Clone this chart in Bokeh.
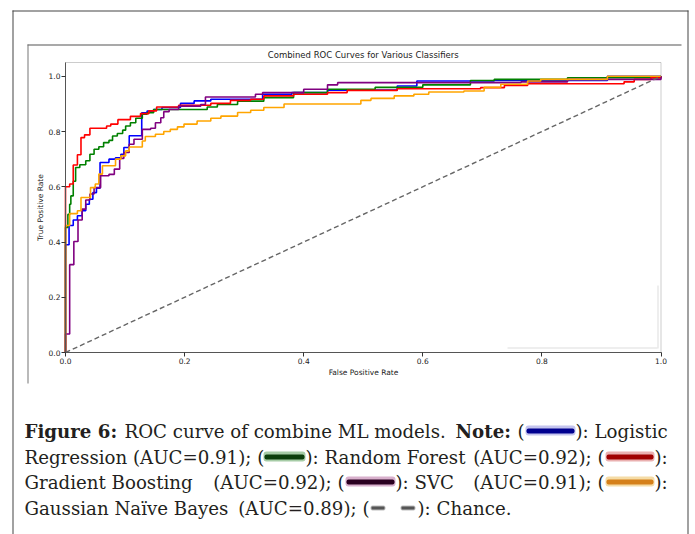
from bokeh.plotting import figure
from bokeh.models import Range1d, Label, BoxAnnotation, FixedTicker, PrintfTickFormatter
from bokeh.embed import file_html
from bokeh.resources import INLINE

# ---------------- data ----------------
lr_fpr = [0, 0, 0.006, 0.013, 0.02, 0.028, 0.034, 0.04, 0.046, 0.052, 0.058, 0.073, 0.084, 0.093,
          0.098, 0.107, 0.128, 0.137, 0.148, 0.162, 0.193, 0.216, 0.244, 0.331, 0.38, 0.44, 0.557,
          0.59, 0.72, 0.91, 1.0]
lr_tpr = [0, 0.39, 0.46, 0.48, 0.495, 0.513, 0.537, 0.555, 0.579, 0.595, 0.688, 0.7, 0.705, 0.718,
          0.742, 0.785, 0.868, 0.874, 0.88, 0.887, 0.902, 0.911, 0.917, 0.935, 0.941, 0.95, 0.965,
          0.983, 0.985, 1.0, 1.0]

rf_fpr = [0, 0, 0.004, 0.007, 0.009, 0.013, 0.017, 0.024, 0.034, 0.041, 0.048, 0.056, 0.064, 0.073,
          0.079, 0.087, 0.096, 0.101, 0.109, 0.118, 0.129, 0.137, 0.148, 0.238, 0.255, 0.289, 0.333,
          0.383, 0.44, 0.52, 0.6, 0.68, 0.72, 0.843, 1.0]
rf_tpr = [0, 0.453, 0.5, 0.537, 0.567, 0.62, 0.67, 0.68, 0.694, 0.718, 0.736, 0.745, 0.76, 0.768,
          0.784, 0.793, 0.805, 0.82, 0.832, 0.848, 0.863, 0.868, 0.88, 0.889, 0.898, 0.91, 0.923,
          0.941, 0.953, 0.96, 0.969, 0.985, 0.989, 0.995, 1.0]

gb_fpr = [0, 0, 0.007, 0.013, 0.02, 0.026, 0.032, 0.041, 0.069, 0.076, 0.088, 0.109, 0.126, 0.14,
          0.153, 0.19, 0.244, 0.277, 0.311, 0.333, 0.383, 0.44, 0.473, 0.557, 0.697, 0.737, 0.776,
          0.938, 0.955, 0.983, 1.0]
gb_tpr = [0, 0.6, 0.61, 0.679, 0.716, 0.778, 0.788, 0.812, 0.82, 0.827, 0.843, 0.855, 0.865, 0.875,
          0.889, 0.895, 0.902, 0.913, 0.917, 0.929, 0.935, 0.941, 0.949, 0.955, 0.959, 0.967, 0.973,
          0.98, 0.989, 0.995, 1.0]

svc_fpr = [0, 0, 0.007, 0.014, 0.021, 0.028, 0.034, 0.041, 0.048, 0.059, 0.073, 0.082, 0.091, 0.098,
           0.107, 0.115, 0.129, 0.143, 0.151, 0.16, 0.165, 0.174, 0.19, 0.227, 0.235, 0.319, 0.331,
           0.4, 0.44, 0.457, 0.765, 0.843, 1.0]
svc_tpr = [0, 0.067, 0.318, 0.402, 0.48, 0.519, 0.552, 0.574, 0.597, 0.64, 0.645, 0.664, 0.703,
           0.724, 0.754, 0.772, 0.808, 0.812, 0.832, 0.85, 0.872, 0.88, 0.892, 0.898, 0.925, 0.935,
           0.941, 0.953, 0.969, 0.977, 0.98, 0.989, 1.0]

nb_fpr = [0, 0, 0.007, 0.02, 0.026, 0.042, 0.05, 0.056, 0.062, 0.084, 0.093, 0.101, 0.107, 0.129,
          0.134, 0.151, 0.165, 0.176, 0.188, 0.199, 0.221, 0.244, 0.261, 0.289, 0.311, 0.333, 0.367,
          0.496, 0.513, 0.552, 0.585, 0.61, 0.669, 0.703, 0.731, 0.776, 0.798, 0.91, 1.0]
nb_tpr = [0, 0.46, 0.503, 0.513, 0.561, 0.597, 0.61, 0.646, 0.676, 0.7, 0.712, 0.73, 0.744, 0.766,
          0.782, 0.79, 0.8, 0.808, 0.817, 0.827, 0.838, 0.848, 0.856, 0.869, 0.877, 0.887, 0.9,
          0.913, 0.92, 0.929, 0.935, 0.943, 0.947, 0.96, 0.971, 0.983, 0.989, 1.0, 1.0]

chance_x = [0.0, 1.0]
chance_y = [0.0, 1.0]

axis_ticks = [0.0, 0.2, 0.4, 0.6, 0.8, 1.0]
x_limits = (0.0, 1.0)
y_limits = (0.0, 1.05)
chart_title = "Combined ROC Curves for Various Classifiers"
x_title = "False Positive Rate"
y_title = "True Positive Rate"

series_colors = ["blue", "green", "red", "purple", "orange"]

# ---------------- layout (pixels on the page) ----------------
W, H = 695, 534
PL, PR, PT, PB = 65.0, 660.5, 62.0, 352.0   # plot box edges

xs = (x_limits[1] - x_limits[0]) / (PR - PL)
ys = (y_limits[1] - y_limits[0]) / (PB - PT)
x_range = Range1d(x_limits[0] - PL * xs, x_limits[1] + (W - PR) * xs)
y_range = Range1d(y_limits[0] - (H - PB) * ys, y_limits[1] + PT * ys)

p = figure(width=W, height=H, x_range=x_range, y_range=y_range, title=None,
           output_backend="svg", toolbar_location=None,
           min_border_left=0, min_border_right=0, min_border_top=0, min_border_bottom=0)
p.background_fill_color = "white"
p.border_fill_color = "white"
p.outline_line_color = None
p.grid.visible = False

for ax in (p.xaxis, p.yaxis):
    ax.ticker = FixedTicker(ticks=axis_ticks)
    ax.formatter = PrintfTickFormatter(format="%.1f")
    ax.axis_line_color = "#555555"
    ax.major_tick_line_color = "#333333"
    ax.major_tick_in = 0
    ax.major_tick_out = 4
    ax.minor_tick_line_color = None
    ax.major_label_text_font = "DejaVu Sans"
    ax.major_label_text_font_size = "7.5px"
    ax.major_label_text_color = "#222222"
    ax.major_label_standoff = 1
    ax.axis_label_text_font = "DejaVu Sans"
    ax.axis_label_text_font_size = "7.5px"
    ax.axis_label_text_font_style = "normal"
    ax.axis_label_text_color = "#222222"
    ax.axis_label_standoff = 1

p.xaxis.fixed_location = y_limits[0]
p.xaxis.bounds = x_limits
p.yaxis.fixed_location = x_limits[0]
p.yaxis.bounds = y_limits
p.xaxis.axis_label = x_title
p.yaxis.axis_label = y_title

# plot box (top and right spines)
p.add_layout(BoxAnnotation(left=x_limits[0], right=x_limits[1], bottom=y_limits[0], top=y_limits[1],
                           fill_alpha=0, line_color="#555555", line_width=1, level="underlay"))

curves = [(lr_fpr, lr_tpr), (rf_fpr, rf_tpr), (gb_fpr, gb_tpr), (svc_fpr, svc_tpr), (nb_fpr, nb_tpr)]
for (fx, ty), col in zip(curves, series_colors):
    p.step(fx, ty, mode="after", line_color=col, line_width=1.6)

p.line(chance_x, chance_y, line_color="#666666", line_width=1.4, line_dash="5 3")

# title
p.add_layout(Label(x=(PL + PR) / 2, y=54, x_units="canvas", y_units="canvas", text=chart_title,
                   text_font="DejaVu Sans", text_font_size="8.5px", text_color="#222222",
                   text_align="center", text_baseline="alphabetic"))

# ---------------- frames ----------------
def box(x0, x1, y0, y1, color, radius=0):
    p.add_layout(BoxAnnotation(left=x0, right=x1, top=y0, bottom=y1,
                               left_units="canvas", right_units="canvas",
                               top_units="canvas", bottom_units="canvas",
                               fill_color=color, fill_alpha=1, line_alpha=0,
                               border_radius=radius, level="overlay"))

box(12, 688, 10, 11, "#444444")
box(12, 13, 10, 534, "#444444")
box(687, 688, 10, 534, "#444444")
box(27, 681, 44, 45, "#555555")
box(27, 28, 44, 383, "#777777")
box(507, 657, 347, 348, "#dddddd")
box(657, 658, 285, 348, "#dddddd")

# ---------------- caption ----------------
cap_font = "DejaVu Serif"
cap_size = "18.2px"
cap_color = "#231f20"

def txt(x, y, s, bold=False, align="left"):
    p.add_layout(Label(x=x, y=y, x_units="canvas", y_units="canvas", text=s,
                       text_font=cap_font, text_font_size=cap_size, text_color=cap_color,
                       text_font_style="bold" if bold else "normal",
                       text_align=align, text_baseline="alphabetic"))

def swatch(x0, x1, yc, core, edge):
    box(x0, x1, yc - 5, yc + 5, edge, 3)
    box(x0 + 1, x1 - 1, yc - 2, yc + 3, core, 2)

def dash(x0, x1, yc):
    box(x0, x1, yc - 2, yc + 3, "#bdbdbd", 2)
    box(x0 + 1, x1 - 1, yc - 1, yc + 2, "#555555", 1)

b1, b2, b3, b4 = 431, 457, 482, 508
off = -1

txt(24, b1, "Figure 6:", bold=True)
txt(124, b1, "ROC curve of combine ML models.")
txt(455, b1, "Note:", bold=True)
txt(524, b1, "(", align="right")
swatch(525, 575, b1 + off, "#00008f", "#c4c4ee")
txt(575, b1, "): Logistic")

txt(24, b2, "Regression (AUC=0.91); (")
swatch(263, 305, b2 + off, "#0c3f0c", "#a6cca6")
txt(305, b2, "): Random Forest")
txt(604, b2, "(AUC=0.92); (", align="right")
swatch(605, 654, b2 + off, "#a00000", "#eab0b0")
txt(654, b2, "):")

txt(24, b3, "Gradient Boosting")
txt(344, b3, "(AUC=0.92); (", align="right")
swatch(345, 395, b3 + off, "#2a0020", "#d8b0cc")
txt(395, b3, "): SVC")
txt(604, b3, "(AUC=0.91); (", align="right")
swatch(605, 654, b3 + off, "#d5801a", "#f5dca6")
txt(654, b3, "):")

txt(24, b4, "Gaussian Naïve Bayes")
txt(369, b4, "(AUC=0.89); (", align="right")
dash(370, 385, b4 + off)
dash(400, 415, b4 + off)
txt(417, b4, "): Chance.")

open("out.html", "w").write(file_html(p, INLINE))
